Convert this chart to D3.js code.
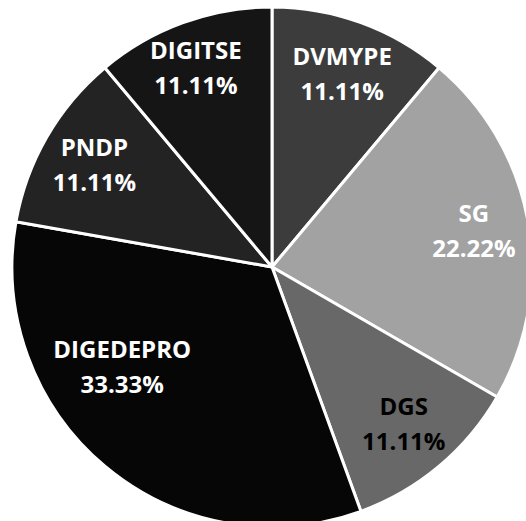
<!DOCTYPE html>
<html>
<head>
<meta charset="utf-8">
<script src="https://cdn.jsdelivr.net/npm/d3@7"></script>
<style>
  body { margin: 0; background: #fff; }
  svg { display: block; }
</style>
</head>
<body>
<svg></svg>
<script>
let width = 526
let height = 521

// data, clockwise from 12 o'clock
let categories = ["DVMYPE", "SG", "DGS", "DIGEDEPRO", "PNDP", "DIGITSE"]
let percents = [11.11, 22.22, 11.11, 33.33, 11.11, 11.11]

let sliceColors = ["#3c3c3c", "#a2a2a2", "#686868", "#060606", "#232323", "#151515"]
let textColors = ["#fff", "#fff", "#000", "#fff", "#fff", "#fff"]

// excel moved this label off the centroid
let labelShift = { DIGEDEPRO: [-18, -57], DIGITSE: [-6, -6] }

let cx = 272
let cy = 267
let radius = 260
let labelRadius = 205

let svg = d3.select("svg")
  .attr("width", width)
  .attr("height", height)

let data = categories.map((c, i) => ({ name: c, value: percents[i], color: sliceColors[i], text: textColors[i] }))

let pie = d3.pie()
  .sort(null)
  .value(d => d.value)

let arc = d3.arc()
  .innerRadius(0)
  .outerRadius(radius)

let labelArc = d3.arc()
  .innerRadius(labelRadius)
  .outerRadius(labelRadius)

let g = svg.append("g")
  .attr("transform", "translate(" + cx + "," + cy + ")")

g.selectAll("path")
  .data(pie(data))
  .enter()
  .append("path")
  .attr("d", arc)
  .attr("fill", d => d.data.color)
  .attr("stroke", "#fff")
  .attr("stroke-width", 3)
  .attr("stroke-linejoin", "round")

let labels = g.selectAll("text")
  .data(pie(data))
  .enter()
  .append("text")
  .attr("transform", d => {
    let p = labelArc.centroid(d)
    let s = labelShift[d.data.name] || [0, 0]
    return "translate(" + (p[0] + s[0]) + "," + (p[1] + s[1]) + ")"
  })
  .attr("text-anchor", "middle")
  .style("font-family", "'Open Sans', sans-serif")
  .style("font-weight", "700")
  .style("font-size", "24px")
  .attr("fill", d => d.data.text)

labels.append("tspan")
  .attr("x", 0)
  .attr("y", -9)
  .text(d => d.data.name)

labels.append("tspan")
  .attr("x", 0)
  .attr("y", 26)
  .text(d => d.data.value.toFixed(2) + "%")
</script>
</body>
</html>
